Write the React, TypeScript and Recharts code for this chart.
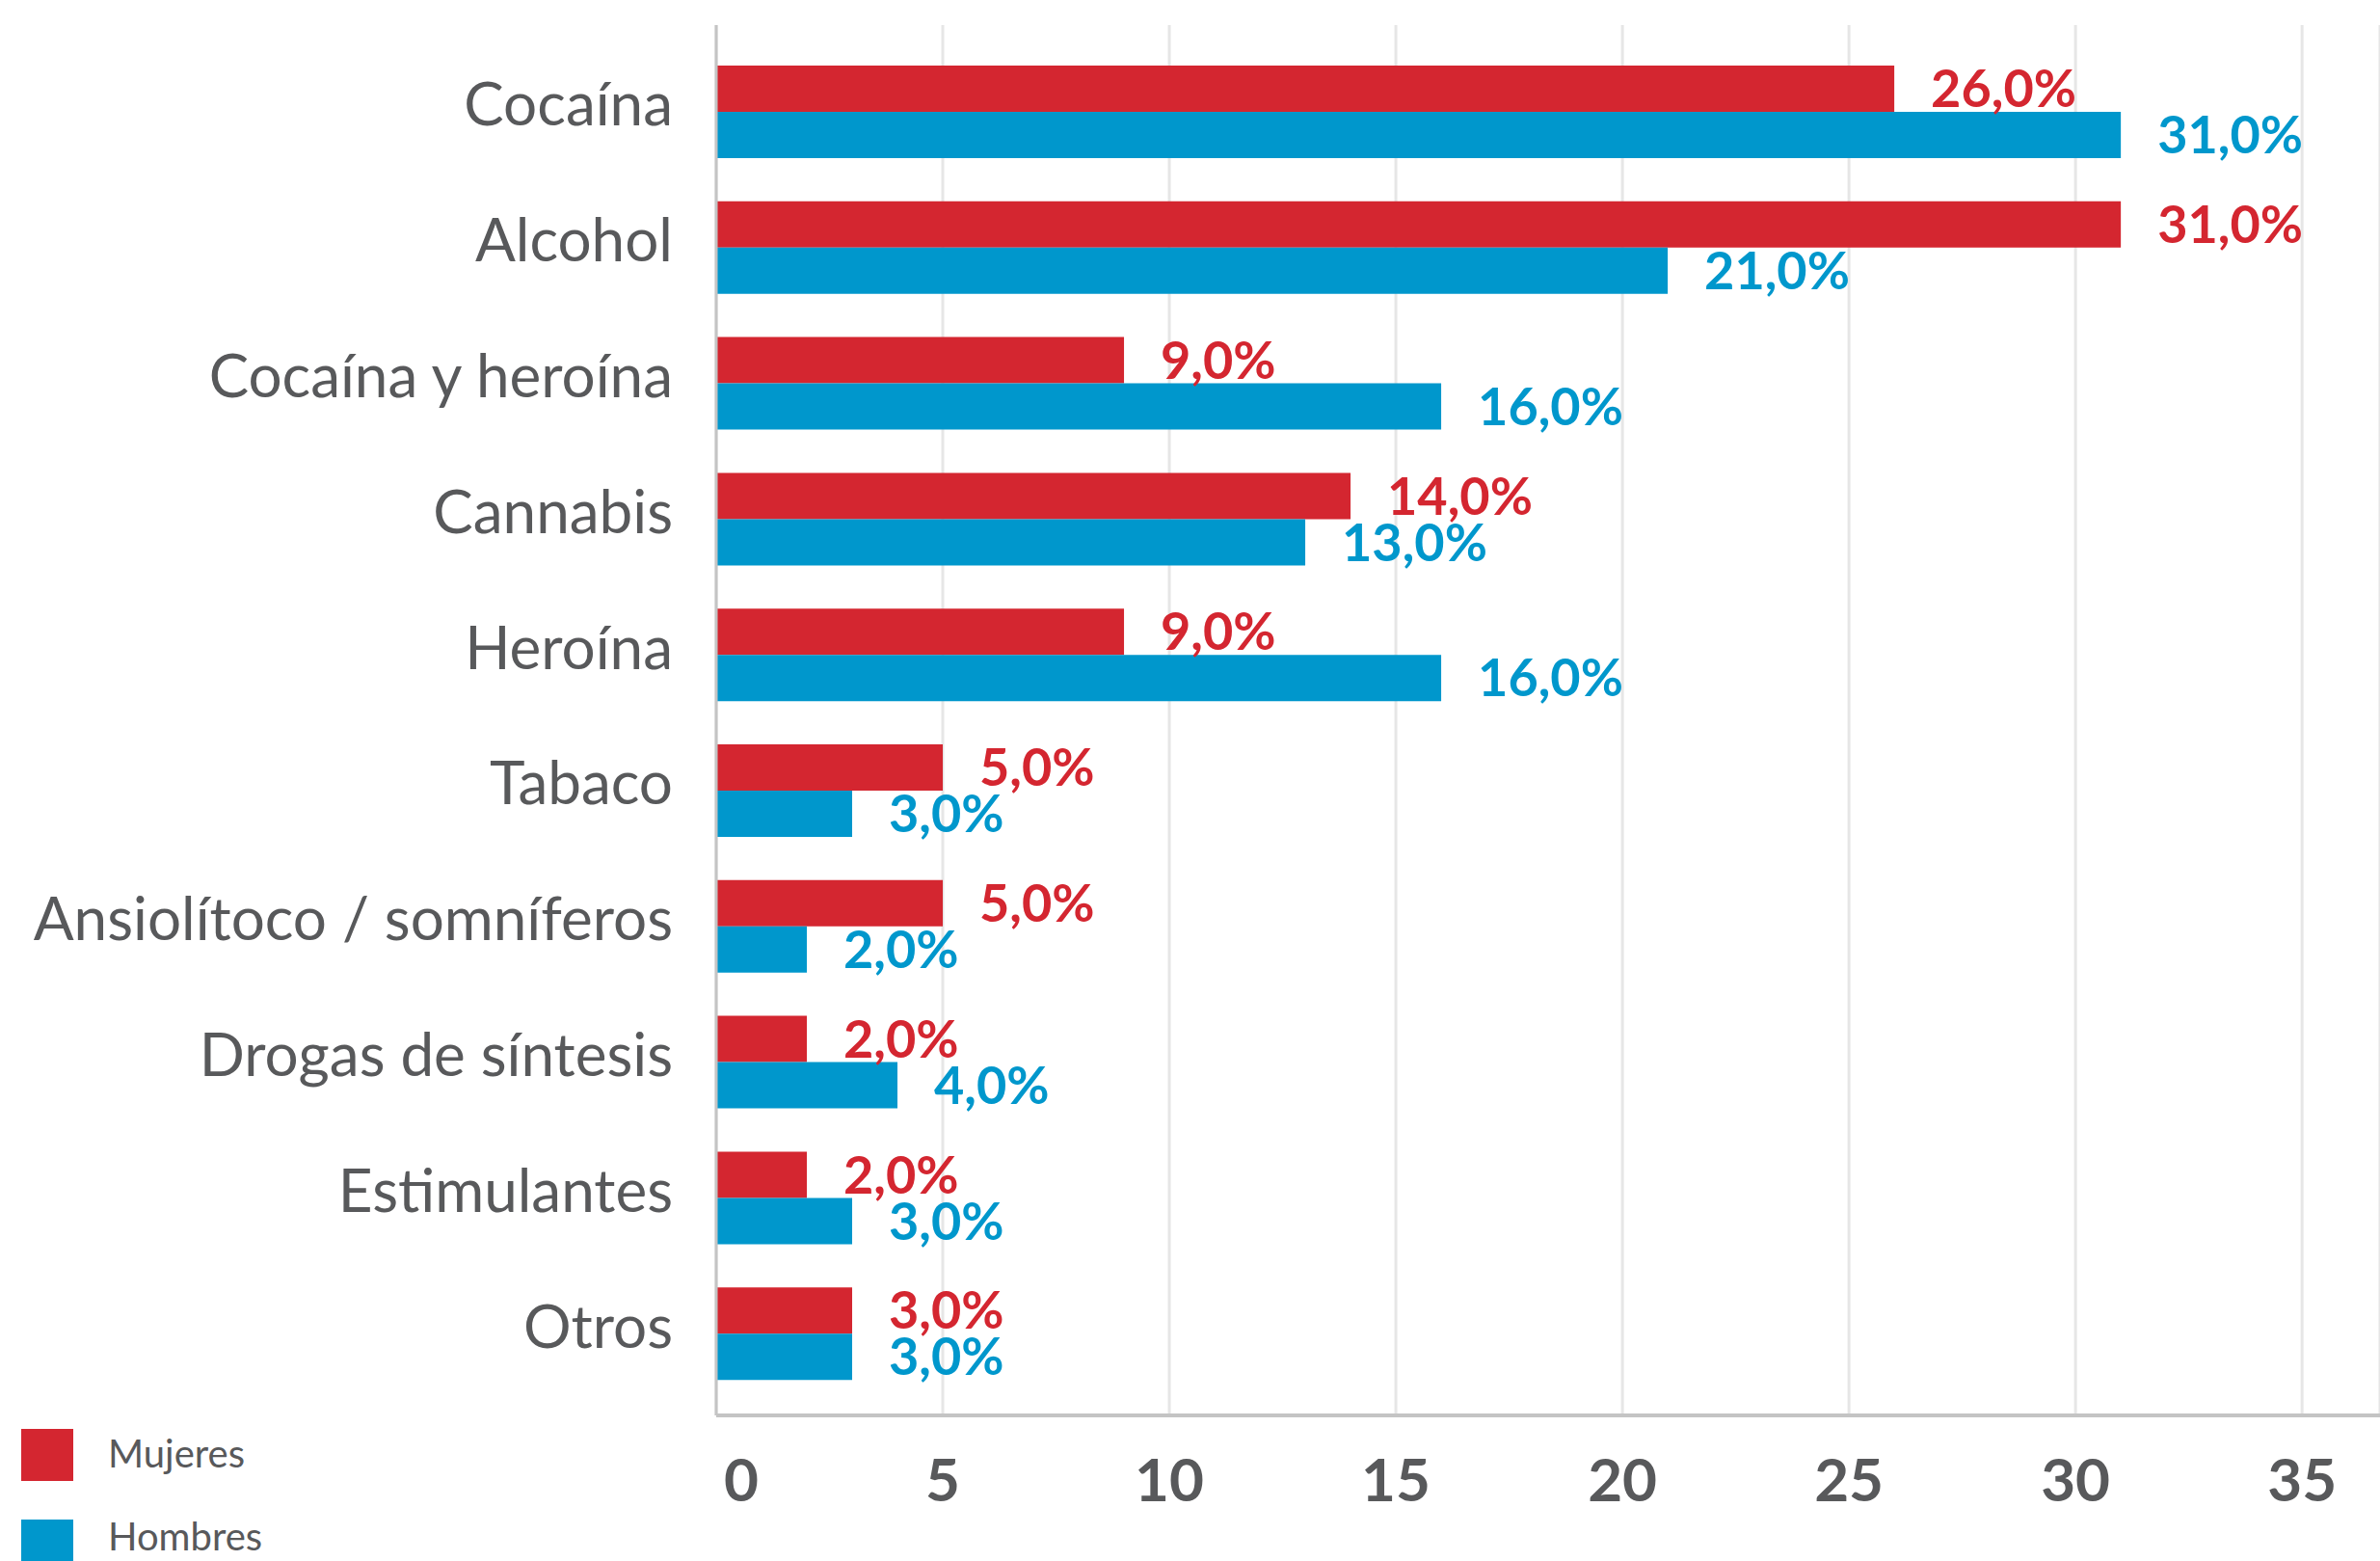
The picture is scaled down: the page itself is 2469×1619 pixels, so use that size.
import { BarChart, Bar, XAxis, YAxis, CartesianGrid, LabelList } from 'recharts';

const categories = [
  'Cocaína',
  'Alcohol',
  'Cocaína y heroína',
  'Cannabis',
  'Heroína',
  'Tabaco',
  'Ansiolítoco / somníferos',
  'Drogas de síntesis',
  'Estimulantes',
  'Otros',
];
const mujeres = [26, 31, 9, 14, 9, 5, 5, 2, 2, 3];
const hombres = [31, 21, 16, 13, 16, 3, 2, 4, 3, 3];
const xTicks = [0, 5, 10, 15, 20, 25, 30, 35];

const seriesNames = ['Mujeres', 'Hombres'];
const RED = '#d42630';
const BLUE = '#0097cc';
const GREY_TEXT = '#58595b';
const FONT = 'Lato, "Noto Sans", sans-serif';

const data = categories.map((name, i) => ({
  name,
  mujeres: mujeres[i],
  hombres: hombres[i],
}));

const fmt = (v: number) => `${v.toFixed(1).replace('.', ',')}%`;

function CategoryTick(props: any) {
  const { x, y, payload } = props;
  return (
    <text x={x} y={y + 14} textAnchor="end" fill={GREY_TEXT} fontSize={62} fontFamily={FONT}>
      {payload.value}
    </text>
  );
}

function ValueTick(props: any) {
  const { x, y, payload } = props;
  // the 0 sits a bit right of its gridline in the original
  const dx = payload.value === 0 ? 26 : 0;
  return (
    <text
      x={x + dx}
      y={y + 89}
      textAnchor="middle"
      fill={GREY_TEXT}
      fontSize={62}
      fontWeight={700}
      fontFamily={FONT}
    >
      {payload.value}
    </text>
  );
}

export default function App() {
  return (
    <div style={{ position: 'absolute', left: 0, top: 0, width: 2469, height: 1619, background: '#fff' }}>
      <BarChart
        width={2469}
        height={1619}
        data={data}
        layout="vertical"
        margin={{ top: 26, right: 0, bottom: 0, left: 0 }}
        barCategoryGap={22}
        barGap={0}
      >
        <CartesianGrid horizontal={false} stroke="#e6e6e6" strokeWidth={3} />
        <XAxis
          type="number"
          domain={[0, 36.72]}
          ticks={xTicks}
          allowDataOverflow
          height={151}
          tickSize={0}
          tickMargin={0}
          tickLine={false}
          axisLine={{ stroke: '#c4c4c4', strokeWidth: 4 }}
          tick={<ValueTick />}
        />
        <YAxis
          type="category"
          dataKey="name"
          width={743}
          padding={{ top: 20, bottom: 14 }}
          tickSize={0}
          tickMargin={45}
          tickLine={false}
          axisLine={{ stroke: '#c4c4c4', strokeWidth: 3 }}
          tick={<CategoryTick />}
          interval={0}
        />
        <Bar dataKey="mujeres" name={seriesNames[0]} fill={RED} isAnimationActive={false}>
          <LabelList
            dataKey="mujeres"
            position="right"
            offset={38}
            formatter={(v: any) => fmt(Number(v))}
            fill={RED}
            fontSize={54}
            fontWeight={700}
            fontFamily={FONT}
          />
        </Bar>
        <Bar dataKey="hombres" name={seriesNames[1]} fill={BLUE} isAnimationActive={false}>
          <LabelList
            dataKey="hombres"
            position="right"
            offset={38}
            formatter={(v: any) => fmt(Number(v))}
            fill={BLUE}
            fontSize={54}
            fontWeight={700}
            fontFamily={FONT}
          />
        </Bar>
      </BarChart>

      {/* leyenda abajo a la izquierda */}
      <svg
        width={400}
        height={160}
        style={{ position: 'absolute', left: 0, top: 1459 }}
      >
        {[RED, BLUE].map((c, i) => (
          <g key={i}>
            <rect x={22} y={23 + i * 94} width={54} height={54} fill={c} />
            <text x={112} y={63 + i * 86} fill={GREY_TEXT} fontSize={40} fontFamily={FONT}>
              {seriesNames[i]}
            </text>
          </g>
        ))}
      </svg>
    </div>
  );
}
